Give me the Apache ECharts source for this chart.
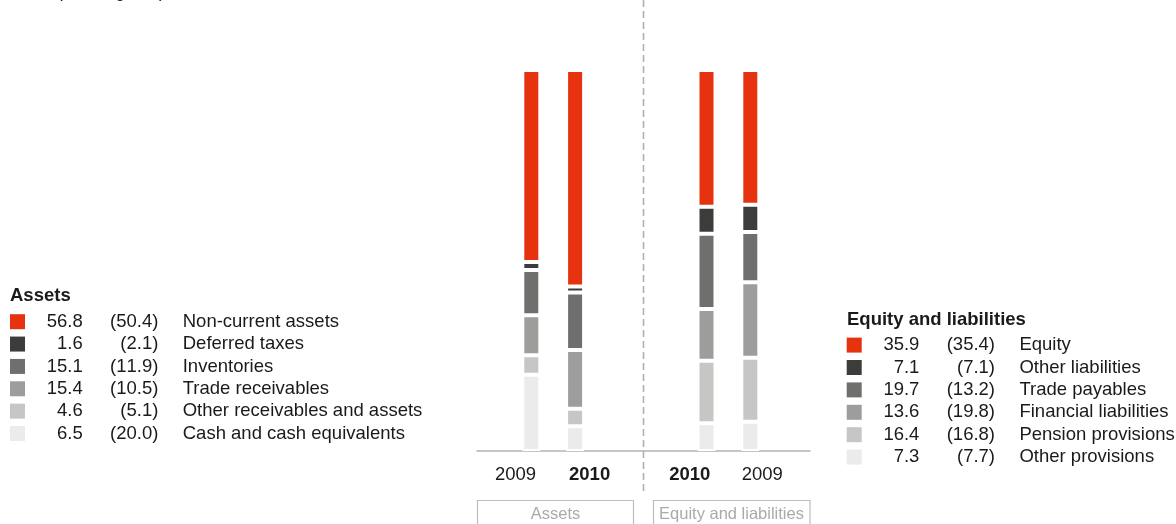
<!DOCTYPE html>
<html><head><meta charset="utf-8">
<script src="https://cdn.jsdelivr.net/npm/echarts@6/dist/echarts.min.js"></script>
<style>html,body{margin:0;padding:0;background:#fff}#c{width:1176px;height:524px}</style>
</head><body><div id="c"></div>
<script>
// ---- data ----
const categories = ['Assets 2009', 'Assets 2010', 'gap 1', 'gap 2', 'Equity and liabilities 2010', 'Equity and liabilities 2009'];
const tickLabels = ['2009', '2010', '', '', '2010', '2009'];
const boldTicks = [false, true, false, false, true, false];

const assetNames = ['Non-current assets', 'Deferred taxes', 'Inventories', 'Trade receivables', 'Other receivables and assets', 'Cash and cash equivalents'];
const assets2010 = [56.8, 1.6, 15.1, 15.4, 4.6, 6.5];
const assets2009 = [50.4, 2.1, 11.9, 10.5, 5.1, 20.0];

const eqNames = ['Equity', 'Other liabilities', 'Trade payables', 'Financial liabilities', 'Pension provisions', 'Other provisions'];
const eq2010 = [35.9, 7.1, 19.7, 13.6, 16.4, 7.3];
const eq2009 = [35.4, 7.1, 13.2, 19.8, 16.8, 7.7];

const groupLabels = ['Assets', 'Equity and liabilities'];
const unitNote = 'in % (2009 figures)';

// ---- styles ----
const segmentColors = ['#E6320F', '#3C3C3B', '#6F6F6E', '#9D9D9C', '#C6C6C5', '#EBEBEB'];
// horizontal nudge of each tick label (px): [padLeft, padRight]
const tickLabelPad = [[0, 31.5], [29, 0], [0, 0], [0, 0], [0, 33.4], [24, 0]];
const FONT = '"Liberation Sans", Arial, Helvetica, sans-serif';
const FS = 18.5;
const TXT = '#1a1a1a';

const series = [];
for (let i = assetNames.length - 1; i >= 0; i--) {
  series.push({
    name: assetNames[i], type: 'bar', stack: 'total', barWidth: 18,
    itemStyle: { color: segmentColors[i], borderColor: '#ffffff', borderWidth: 2 },
    data: [assets2009[i], assets2010[i], null, null, null, null],
    silent: true
  });
}
for (let i = eqNames.length - 1; i >= 0; i--) {
  series.push({
    name: eqNames[i], type: 'bar', stack: 'total', barWidth: 18,
    itemStyle: { color: segmentColors[i], borderColor: '#ffffff', borderWidth: 2 },
    data: [null, null, null, null, eq2010[i], eq2009[i]],
    silent: true
  });
}

// hidden-digit padding keeps numbers right-aligned in their columns;
// each character is its own token so font kerning cannot shift the columns
function padDigits(str, len) {
  let pad = '';
  for (let k = str.length; k < len; k++) pad += '{h|0}';
  return pad;
}
function chars(str) {
  return str.split('').map(function (c) { return '{t|' + c + '}'; }).join('');
}
function legendFormatter(names, cur, prev) {
  return function (name) {
    const i = names.indexOf(name);
    const a = cur[i].toFixed(1);
    const b = prev[i].toFixed(1);
    return '{s1| }' + padDigits(a, 4) + chars(a) + '{s2| }' +
           padDigits(b, 4) + chars('(' + b + ')') + '{s3| }{t|' + name + '}';
  };
}
function legendRich() {
  const base = { fontFamily: FONT, fontSize: FS, color: TXT, lineHeight: 19 };
  return {
    s1: Object.assign({}, base, { width: 16.7 }),
    s2: Object.assign({}, base, { width: 27.3 }),
    s3: Object.assign({}, base, { width: 24.4 }),
    h: Object.assign({}, base, { color: 'rgba(0,0,0,0)' }),
    t: Object.assign({}, base)
  };
}

const option = {
  animation: false,
  backgroundColor: '#ffffff',
  title: [
    { text: groupLabels[0], left: 10, top: 286, padding: 0,
      textStyle: { fontFamily: FONT, fontSize: FS, fontWeight: 'bold', color: TXT, lineHeight: 20 } },
    { text: groupLabels[1], left: 847, top: 310, padding: 0,
      textStyle: { fontFamily: FONT, fontSize: FS, fontWeight: 'bold', color: TXT, lineHeight: 20 } }
  ],
  legend: [
    { data: assetNames, orient: 'vertical', left: 10, top: 312.2, padding: 0,
      itemWidth: 15, itemHeight: 15, itemGap: 3.36, icon: 'rect', selectedMode: false,
      itemStyle: { borderWidth: 0 },
      formatter: legendFormatter(assetNames, assets2010, assets2009),
      textStyle: { fontFamily: FONT, fontSize: FS, color: TXT, lineHeight: 19, rich: legendRich() } },
    { data: eqNames, orient: 'vertical', left: 846.7, top: 335.6, padding: 0,
      itemWidth: 15, itemHeight: 15, itemGap: 3.4, icon: 'rect', selectedMode: false,
      itemStyle: { borderWidth: 0 },
      formatter: legendFormatter(eqNames, eq2010, eq2009),
      textStyle: { fontFamily: FONT, fontSize: FS, color: TXT, lineHeight: 19, rich: legendRich() } }
  ],
  grid: [
    { left: 509.4, width: 262.8, top: 70, bottom: 73, containLabel: false },
    { left: 477, width: 333, top: 70, bottom: 73, containLabel: false }
  ],
  xAxis: [
    { type: 'category', gridIndex: 0, data: categories,
      axisLine: { show: false }, axisTick: { show: false },
      axisLabel: { interval: 0, margin: 14,
        formatter: function (v, i) { return (boldTicks[i] ? '{b' : '{r') + i + '|' + tickLabels[i] + '}'; },
        rich: (function () {
          const r = {};
          tickLabelPad.forEach(function (p, i) {
            const pad = [0, p[1], 0, p[0]];
            r['r' + i] = { fontFamily: FONT, fontSize: FS, color: TXT, padding: pad };
            r['b' + i] = { fontFamily: FONT, fontSize: FS, color: TXT, fontWeight: 'bold', padding: pad };
          });
          return r;
        })() } },
    { type: 'category', gridIndex: 1, data: ['baseline'],
      axisLine: { show: true, onZero: false, lineStyle: { color: '#b2b2b2', width: 1.5 } },
      axisTick: { show: false }, axisLabel: { show: false } }
  ],
  yAxis: [
    { type: 'value', gridIndex: 0, min: 0, max: 100, show: false },
    { type: 'value', gridIndex: 1, min: 0, max: 100, show: false }
  ],
  graphic: [
    { type: 'text', x: 18, y: -8, silent: true,
      style: { text: unitNote, font: '17.5px ' + FONT, fill: TXT, verticalAlign: 'middle' } },
    { type: 'line', silent: true, shape: { x1: 643.5, y1: 0, x2: 643.5, y2: 495 },
      style: { stroke: '#b0b0b0', lineWidth: 1.6, lineDash: [7, 4] } },
    { type: 'rect', silent: true, shape: { x: 477.5, y: 500.5, width: 156, height: 40 },
      style: { fill: 'none', stroke: '#bdbdbd', lineWidth: 1.2 } },
    { type: 'text', silent: true, x: 555.5, y: 514,
      style: { text: groupLabels[0], font: '16.5px ' + FONT, fill: '#aaaaaa', align: 'center', verticalAlign: 'middle' } },
    { type: 'rect', silent: true, shape: { x: 653.5, y: 500.5, width: 156.5, height: 40 },
      style: { fill: 'none', stroke: '#bdbdbd', lineWidth: 1.2 } },
    { type: 'text', silent: true, x: 731.5, y: 514,
      style: { text: groupLabels[1], font: '16.5px ' + FONT, fill: '#aaaaaa', align: 'center', verticalAlign: 'middle' } }
  ],
  series: series
};

const chart = echarts.init(document.getElementById('c'), null, { renderer: 'canvas' });
chart.setOption(option);
</script>
</body></html>
